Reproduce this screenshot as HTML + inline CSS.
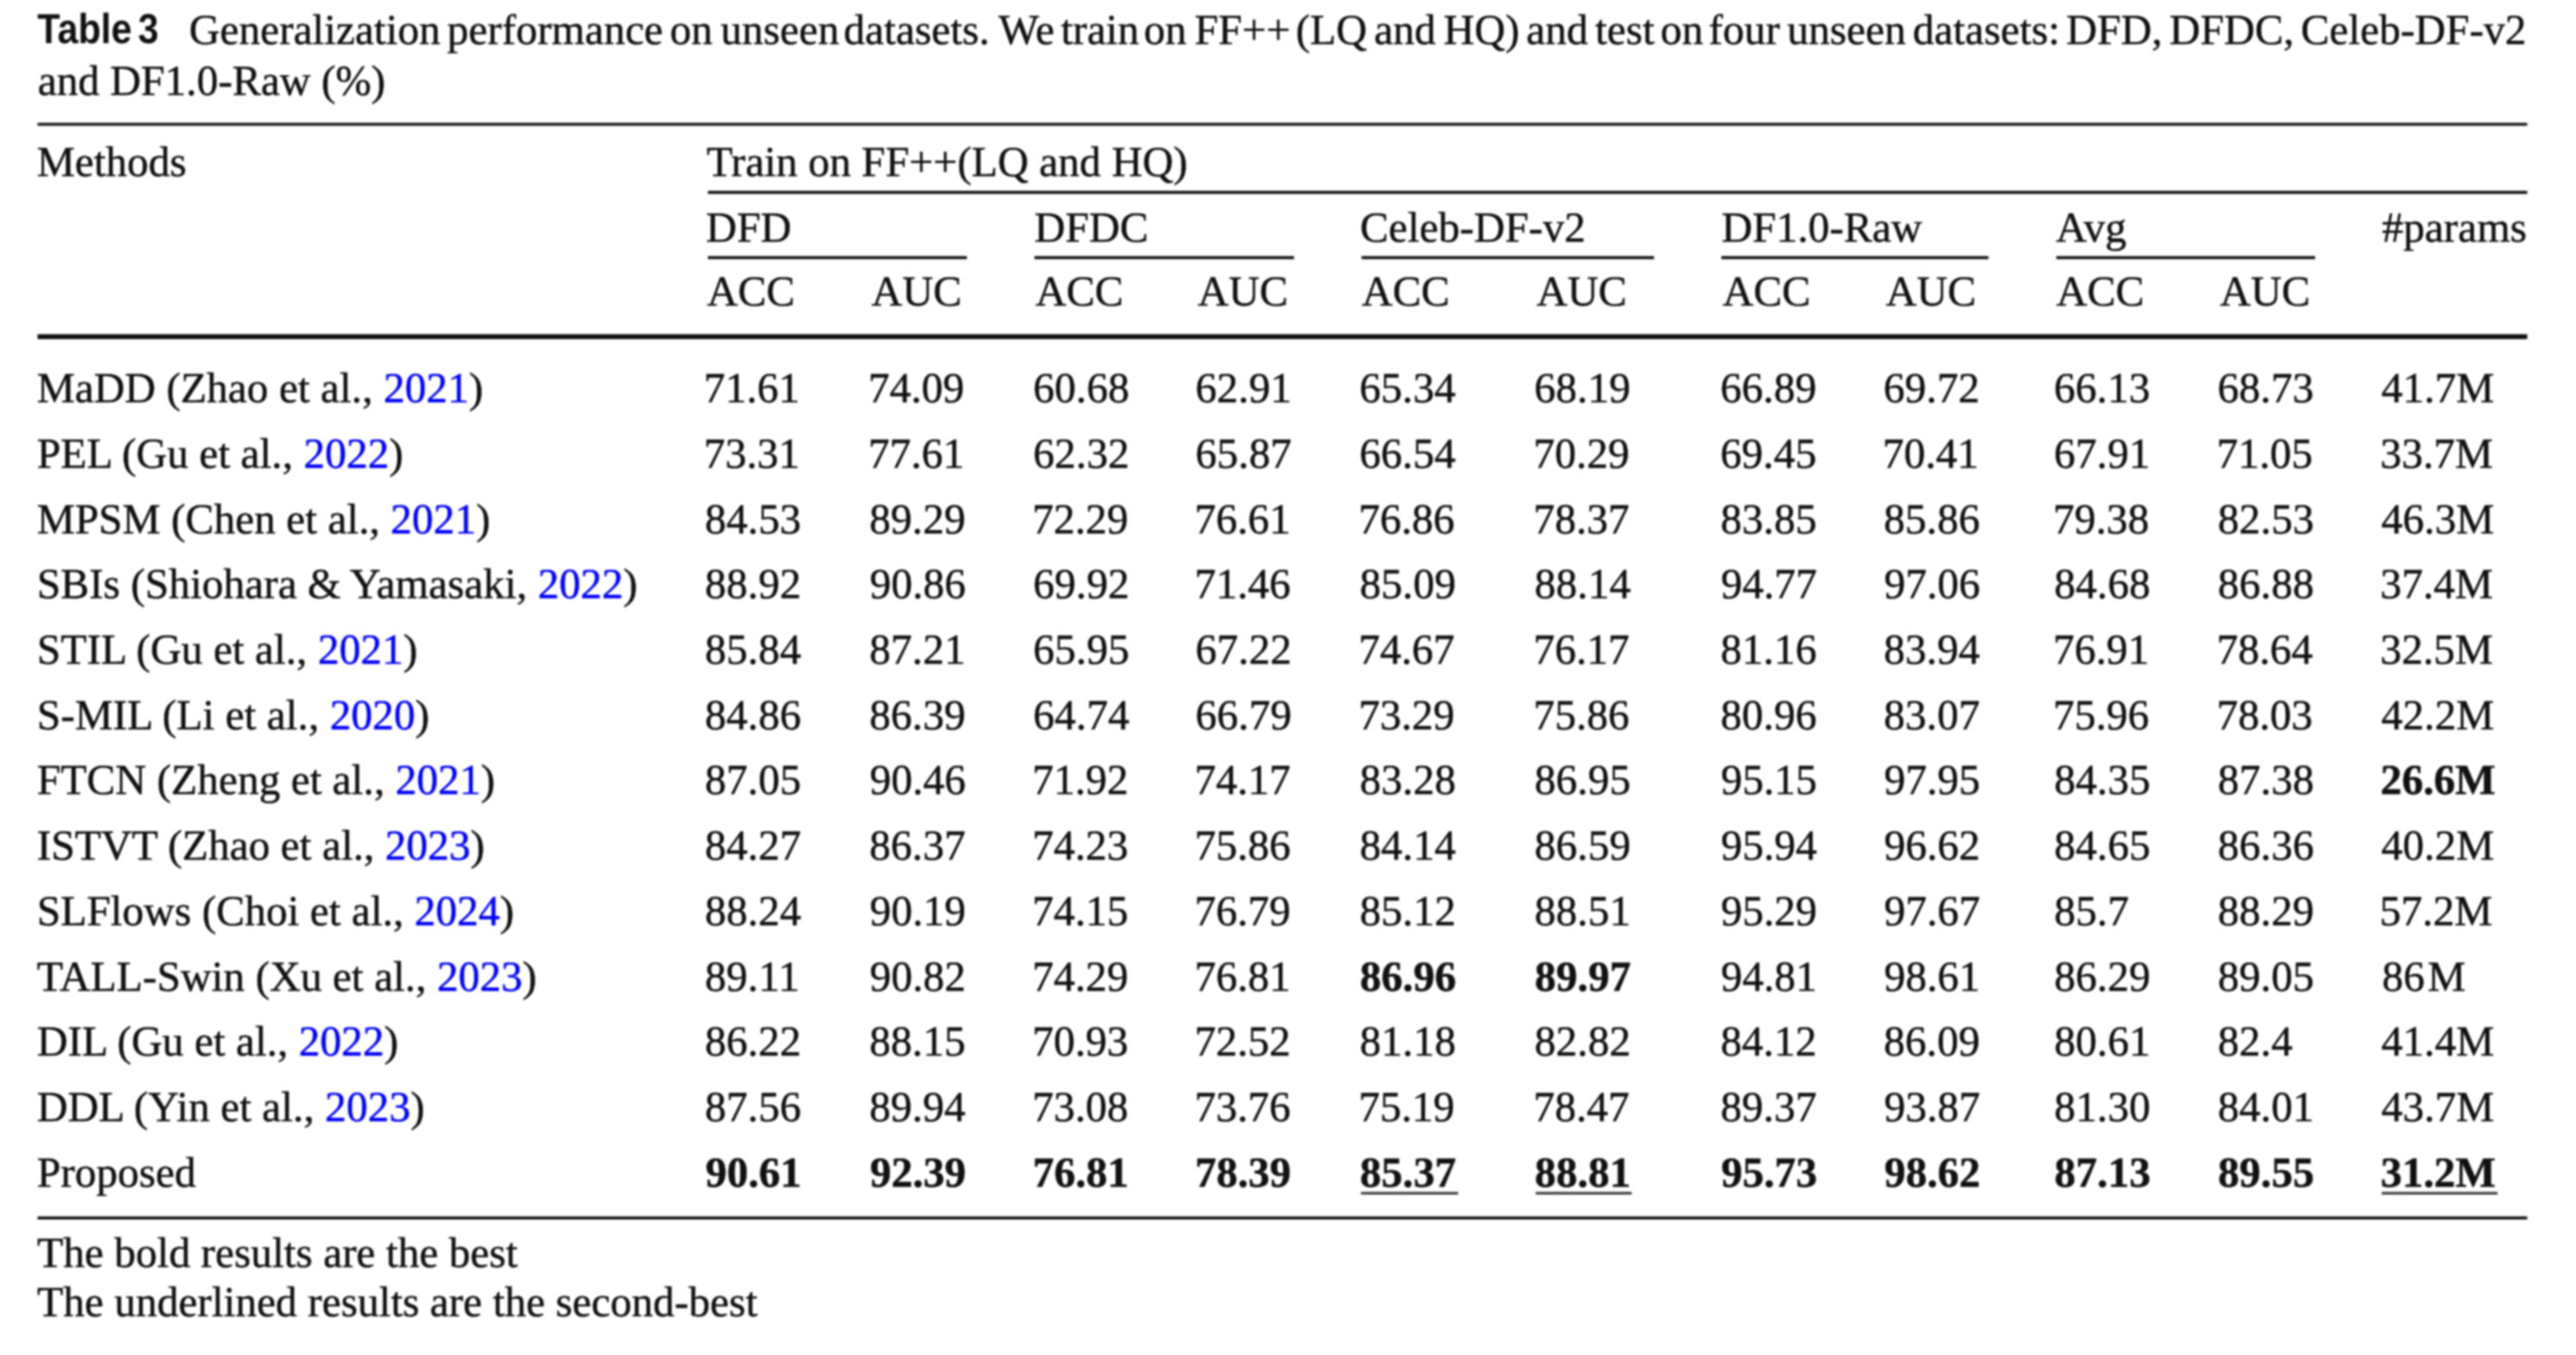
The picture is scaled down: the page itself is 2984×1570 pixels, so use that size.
<!DOCTYPE html>
<html><head><meta charset="utf-8"><title>Table 3</title>
<style>
html,body{margin:0;padding:0;background:#fff;}
body{width:2984px;height:1570px;overflow:hidden;font-family:"Liberation Serif",serif;}
svg{display:block;text-rendering:geometricPrecision;}
#wrap{filter:blur(1.0px);width:2984px;height:1570px;}
svg text{fill:#111;stroke:#111;stroke-width:0.5px;}
svg tspan.b{fill:#00f;stroke:#00f;}
svg text.lbl{stroke-width:0.0px;}
</style></head><body><div id="wrap">
<svg width="2984" height="1570" viewBox="0 0 2984 1570" fill="#111"><text class="lbl" transform="translate(43.21 50.40) scale(0.885 1)" font-family="Liberation Sans" font-weight="bold" font-size="48.80">Table</text>
<text class="lbl" transform="translate(159.81 50.40) scale(0.885 1)" font-family="Liberation Sans" font-weight="bold" font-size="48.80">3</text>
<text x="218.97" y="50.60" font-family="Liberation Serif" font-weight="normal" font-size="49.50">Generalization</text>
<text x="518.00" y="50.60" font-family="Liberation Serif" font-weight="normal" font-size="49.50">performance</text>
<text x="776.11" y="50.60" font-family="Liberation Serif" font-weight="normal" font-size="49.50">on</text>
<text x="834.85" y="50.60" font-family="Liberation Serif" font-weight="normal" font-size="49.50">unseen</text>
<text x="977.21" y="50.60" font-family="Liberation Serif" font-weight="normal" font-size="49.50">datasets.</text>
<text x="1156.65" y="50.60" font-family="Liberation Serif" font-weight="normal" font-size="49.50">We</text>
<text x="1228.92" y="50.60" font-family="Liberation Serif" font-weight="normal" font-size="49.50">train</text>
<text x="1325.11" y="50.60" font-family="Liberation Serif" font-weight="normal" font-size="49.50">on</text>
<text x="1383.77" y="50.60" font-family="Liberation Serif" font-weight="normal" font-size="49.50">FF++</text>
<text x="1501.12" y="50.60" font-family="Liberation Serif" font-weight="normal" font-size="49.50">(LQ</text>
<text x="1591.76" y="50.60" font-family="Liberation Serif" font-weight="normal" font-size="49.50">and</text>
<text x="1672.17" y="50.60" font-family="Liberation Serif" font-weight="normal" font-size="49.50">HQ)</text>
<text x="1767.96" y="50.60" font-family="Liberation Serif" font-weight="normal" font-size="49.50">and</text>
<text x="1847.82" y="50.60" font-family="Liberation Serif" font-weight="normal" font-size="49.50">test</text>
<text x="1923.61" y="50.60" font-family="Liberation Serif" font-weight="normal" font-size="49.50">on</text>
<text x="1979.28" y="50.60" font-family="Liberation Serif" font-weight="normal" font-size="49.50">four</text>
<text x="2070.35" y="50.60" font-family="Liberation Serif" font-weight="normal" font-size="49.50">unseen</text>
<text x="2215.71" y="50.60" font-family="Liberation Serif" font-weight="normal" font-size="49.50">datasets:</text>
<text x="2393.57" y="50.60" font-family="Liberation Serif" font-weight="normal" font-size="49.50">DFD,</text>
<text x="2512.97" y="50.60" font-family="Liberation Serif" font-weight="normal" font-size="49.50">DFDC,</text>
<text x="2665.27" y="50.60" font-family="Liberation Serif" font-weight="normal" font-size="49.50">Celeb-DF-v2</text>
<text x="43.66" y="110.20" font-family="Liberation Serif" font-weight="normal" font-size="49.50">and DF1.0-Raw (%)</text>
<rect x="43.50" y="142.35" width="2884.00" height="3.30" fill="#111"/>
<rect x="820.00" y="221.15" width="2107.50" height="3.50" fill="#111"/>
<rect x="820.00" y="296.75" width="300.00" height="3.50" fill="#111"/>
<rect x="1198.30" y="296.75" width="300.70" height="3.50" fill="#111"/>
<rect x="1577.20" y="296.75" width="338.80" height="3.50" fill="#111"/>
<rect x="1994.00" y="296.75" width="309.40" height="3.50" fill="#111"/>
<rect x="2382.00" y="296.75" width="299.80" height="3.50" fill="#111"/>
<rect x="43.50" y="387.25" width="2884.00" height="5.70" fill="#111"/>
<rect x="43.50" y="1409.45" width="2884.00" height="3.50" fill="#111"/>
<text x="42.80" y="203.90" font-family="Liberation Serif" font-weight="normal" font-size="49.50">Methods</text>
<text x="818.41" y="203.90" font-family="Liberation Serif" font-weight="normal" font-size="49.50">Train on FF++(LQ and HQ)</text>
<text x="817.67" y="279.60" font-family="Liberation Serif" font-weight="normal" font-size="49.50">DFD</text>
<text x="1198.17" y="279.60" font-family="Liberation Serif" font-weight="normal" font-size="49.50">DFDC</text>
<text x="1575.57" y="279.60" font-family="Liberation Serif" font-weight="normal" font-size="49.50">Celeb-DF-v2</text>
<text x="1994.17" y="279.60" font-family="Liberation Serif" font-weight="normal" font-size="49.50">DF1.0-Raw</text>
<text x="2381.62" y="279.60" font-family="Liberation Serif" font-weight="normal" font-size="49.50">Avg</text>
<text x="2759.21" y="279.60" font-family="Liberation Serif" font-weight="normal" font-size="49.50">#params</text>
<text x="818.92" y="353.80" font-family="Liberation Serif" font-weight="normal" font-size="49.50">ACC</text>
<text x="1009.42" y="353.80" font-family="Liberation Serif" font-weight="normal" font-size="49.50">AUC</text>
<text x="1199.42" y="353.80" font-family="Liberation Serif" font-weight="normal" font-size="49.50">ACC</text>
<text x="1387.42" y="353.80" font-family="Liberation Serif" font-weight="normal" font-size="49.50">AUC</text>
<text x="1577.42" y="353.80" font-family="Liberation Serif" font-weight="normal" font-size="49.50">ACC</text>
<text x="1779.92" y="353.80" font-family="Liberation Serif" font-weight="normal" font-size="49.50">AUC</text>
<text x="1995.42" y="353.80" font-family="Liberation Serif" font-weight="normal" font-size="49.50">ACC</text>
<text x="2184.42" y="353.80" font-family="Liberation Serif" font-weight="normal" font-size="49.50">AUC</text>
<text x="2381.92" y="353.80" font-family="Liberation Serif" font-weight="normal" font-size="49.50">ACC</text>
<text x="2571.42" y="353.80" font-family="Liberation Serif" font-weight="normal" font-size="49.50">AUC</text>
<text x="42.80" y="466.20" font-family="Liberation Serif" font-size="49.50">MaDD (Zhao et al., <tspan class="b">2021</tspan>)</text>
<text x="815.24" y="466.20" font-family="Liberation Serif" font-weight="normal" font-size="49.50">71.61</text>
<text x="1005.74" y="466.20" font-family="Liberation Serif" font-weight="normal" font-size="49.50">74.09</text>
<text x="1196.87" y="466.20" font-family="Liberation Serif" font-weight="normal" font-size="49.50">60.68</text>
<text x="1384.87" y="466.20" font-family="Liberation Serif" font-weight="normal" font-size="49.50">62.91</text>
<text x="1574.87" y="466.20" font-family="Liberation Serif" font-weight="normal" font-size="49.50">65.34</text>
<text x="1777.37" y="466.20" font-family="Liberation Serif" font-weight="normal" font-size="49.50">68.19</text>
<text x="1992.87" y="466.20" font-family="Liberation Serif" font-weight="normal" font-size="49.50">66.89</text>
<text x="2181.87" y="466.20" font-family="Liberation Serif" font-weight="normal" font-size="49.50">69.72</text>
<text x="2379.37" y="466.20" font-family="Liberation Serif" font-weight="normal" font-size="49.50">66.13</text>
<text x="2568.87" y="466.20" font-family="Liberation Serif" font-weight="normal" font-size="49.50">68.73</text>
<text x="2758.53" y="466.20" font-family="Liberation Serif" font-weight="normal" font-size="49.50">41.7M</text>
<text x="42.80" y="541.90" font-family="Liberation Serif" font-size="49.50">PEL (Gu et al., <tspan class="b">2022</tspan>)</text>
<text x="815.24" y="541.90" font-family="Liberation Serif" font-weight="normal" font-size="49.50">73.31</text>
<text x="1005.74" y="541.90" font-family="Liberation Serif" font-weight="normal" font-size="49.50">77.61</text>
<text x="1196.87" y="541.90" font-family="Liberation Serif" font-weight="normal" font-size="49.50">62.32</text>
<text x="1384.87" y="541.90" font-family="Liberation Serif" font-weight="normal" font-size="49.50">65.87</text>
<text x="1574.87" y="541.90" font-family="Liberation Serif" font-weight="normal" font-size="49.50">66.54</text>
<text x="1776.24" y="541.90" font-family="Liberation Serif" font-weight="normal" font-size="49.50">70.29</text>
<text x="1992.87" y="541.90" font-family="Liberation Serif" font-weight="normal" font-size="49.50">69.45</text>
<text x="2180.74" y="541.90" font-family="Liberation Serif" font-weight="normal" font-size="49.50">70.41</text>
<text x="2379.37" y="541.90" font-family="Liberation Serif" font-weight="normal" font-size="49.50">67.91</text>
<text x="2567.74" y="541.90" font-family="Liberation Serif" font-weight="normal" font-size="49.50">71.05</text>
<text x="2757.13" y="541.90" font-family="Liberation Serif" font-weight="normal" font-size="49.50">33.7M</text>
<text x="42.80" y="617.60" font-family="Liberation Serif" font-size="49.50">MPSM (Chen et al., <tspan class="b">2021</tspan>)</text>
<text x="816.61" y="617.60" font-family="Liberation Serif" font-weight="normal" font-size="49.50">84.53</text>
<text x="1007.11" y="617.60" font-family="Liberation Serif" font-weight="normal" font-size="49.50">89.29</text>
<text x="1195.74" y="617.60" font-family="Liberation Serif" font-weight="normal" font-size="49.50">72.29</text>
<text x="1383.74" y="617.60" font-family="Liberation Serif" font-weight="normal" font-size="49.50">76.61</text>
<text x="1573.74" y="617.60" font-family="Liberation Serif" font-weight="normal" font-size="49.50">76.86</text>
<text x="1776.24" y="617.60" font-family="Liberation Serif" font-weight="normal" font-size="49.50">78.37</text>
<text x="1993.11" y="617.60" font-family="Liberation Serif" font-weight="normal" font-size="49.50">83.85</text>
<text x="2182.11" y="617.60" font-family="Liberation Serif" font-weight="normal" font-size="49.50">85.86</text>
<text x="2378.24" y="617.60" font-family="Liberation Serif" font-weight="normal" font-size="49.50">79.38</text>
<text x="2569.11" y="617.60" font-family="Liberation Serif" font-weight="normal" font-size="49.50">82.53</text>
<text x="2758.53" y="617.60" font-family="Liberation Serif" font-weight="normal" font-size="49.50">46.3M</text>
<text x="42.80" y="693.30" font-family="Liberation Serif" font-size="49.50">SBIs (Shiohara &amp; Yamasaki, <tspan class="b">2022</tspan>)</text>
<text x="816.61" y="693.30" font-family="Liberation Serif" font-weight="normal" font-size="49.50">88.92</text>
<text x="1007.40" y="693.30" font-family="Liberation Serif" font-weight="normal" font-size="49.50">90.86</text>
<text x="1196.87" y="693.30" font-family="Liberation Serif" font-weight="normal" font-size="49.50">69.92</text>
<text x="1383.74" y="693.30" font-family="Liberation Serif" font-weight="normal" font-size="49.50">71.46</text>
<text x="1575.11" y="693.30" font-family="Liberation Serif" font-weight="normal" font-size="49.50">85.09</text>
<text x="1777.61" y="693.30" font-family="Liberation Serif" font-weight="normal" font-size="49.50">88.14</text>
<text x="1993.40" y="693.30" font-family="Liberation Serif" font-weight="normal" font-size="49.50">94.77</text>
<text x="2182.40" y="693.30" font-family="Liberation Serif" font-weight="normal" font-size="49.50">97.06</text>
<text x="2379.61" y="693.30" font-family="Liberation Serif" font-weight="normal" font-size="49.50">84.68</text>
<text x="2569.11" y="693.30" font-family="Liberation Serif" font-weight="normal" font-size="49.50">86.88</text>
<text x="2757.13" y="693.30" font-family="Liberation Serif" font-weight="normal" font-size="49.50">37.4M</text>
<text x="42.80" y="769.00" font-family="Liberation Serif" font-size="49.50">STIL (Gu et al., <tspan class="b">2021</tspan>)</text>
<text x="816.61" y="769.00" font-family="Liberation Serif" font-weight="normal" font-size="49.50">85.84</text>
<text x="1007.11" y="769.00" font-family="Liberation Serif" font-weight="normal" font-size="49.50">87.21</text>
<text x="1196.87" y="769.00" font-family="Liberation Serif" font-weight="normal" font-size="49.50">65.95</text>
<text x="1384.87" y="769.00" font-family="Liberation Serif" font-weight="normal" font-size="49.50">67.22</text>
<text x="1573.74" y="769.00" font-family="Liberation Serif" font-weight="normal" font-size="49.50">74.67</text>
<text x="1776.24" y="769.00" font-family="Liberation Serif" font-weight="normal" font-size="49.50">76.17</text>
<text x="1993.11" y="769.00" font-family="Liberation Serif" font-weight="normal" font-size="49.50">81.16</text>
<text x="2182.11" y="769.00" font-family="Liberation Serif" font-weight="normal" font-size="49.50">83.94</text>
<text x="2378.24" y="769.00" font-family="Liberation Serif" font-weight="normal" font-size="49.50">76.91</text>
<text x="2567.74" y="769.00" font-family="Liberation Serif" font-weight="normal" font-size="49.50">78.64</text>
<text x="2757.13" y="769.00" font-family="Liberation Serif" font-weight="normal" font-size="49.50">32.5M</text>
<text x="42.80" y="844.70" font-family="Liberation Serif" font-size="49.50">S-MIL (Li et al., <tspan class="b">2020</tspan>)</text>
<text x="816.61" y="844.70" font-family="Liberation Serif" font-weight="normal" font-size="49.50">84.86</text>
<text x="1007.11" y="844.70" font-family="Liberation Serif" font-weight="normal" font-size="49.50">86.39</text>
<text x="1196.87" y="844.70" font-family="Liberation Serif" font-weight="normal" font-size="49.50">64.74</text>
<text x="1384.87" y="844.70" font-family="Liberation Serif" font-weight="normal" font-size="49.50">66.79</text>
<text x="1573.74" y="844.70" font-family="Liberation Serif" font-weight="normal" font-size="49.50">73.29</text>
<text x="1776.24" y="844.70" font-family="Liberation Serif" font-weight="normal" font-size="49.50">75.86</text>
<text x="1993.11" y="844.70" font-family="Liberation Serif" font-weight="normal" font-size="49.50">80.96</text>
<text x="2182.11" y="844.70" font-family="Liberation Serif" font-weight="normal" font-size="49.50">83.07</text>
<text x="2378.24" y="844.70" font-family="Liberation Serif" font-weight="normal" font-size="49.50">75.96</text>
<text x="2567.74" y="844.70" font-family="Liberation Serif" font-weight="normal" font-size="49.50">78.03</text>
<text x="2758.53" y="844.70" font-family="Liberation Serif" font-weight="normal" font-size="49.50">42.2M</text>
<text x="42.80" y="920.40" font-family="Liberation Serif" font-size="49.50">FTCN (Zheng et al., <tspan class="b">2021</tspan>)</text>
<text x="816.61" y="920.40" font-family="Liberation Serif" font-weight="normal" font-size="49.50">87.05</text>
<text x="1007.40" y="920.40" font-family="Liberation Serif" font-weight="normal" font-size="49.50">90.46</text>
<text x="1195.74" y="920.40" font-family="Liberation Serif" font-weight="normal" font-size="49.50">71.92</text>
<text x="1383.74" y="920.40" font-family="Liberation Serif" font-weight="normal" font-size="49.50">74.17</text>
<text x="1575.11" y="920.40" font-family="Liberation Serif" font-weight="normal" font-size="49.50">83.28</text>
<text x="1777.61" y="920.40" font-family="Liberation Serif" font-weight="normal" font-size="49.50">86.95</text>
<text x="1993.40" y="920.40" font-family="Liberation Serif" font-weight="normal" font-size="49.50">95.15</text>
<text x="2182.40" y="920.40" font-family="Liberation Serif" font-weight="normal" font-size="49.50">97.95</text>
<text x="2379.61" y="920.40" font-family="Liberation Serif" font-weight="normal" font-size="49.50">84.35</text>
<text x="2569.11" y="920.40" font-family="Liberation Serif" font-weight="normal" font-size="49.50">87.38</text>
<text x="2757.42" y="920.40" font-family="Liberation Serif" font-weight="bold" font-size="49.50">26.6M</text>
<text x="42.80" y="996.10" font-family="Liberation Serif" font-size="49.50">ISTVT (Zhao et al., <tspan class="b">2023</tspan>)</text>
<text x="816.61" y="996.10" font-family="Liberation Serif" font-weight="normal" font-size="49.50">84.27</text>
<text x="1007.11" y="996.10" font-family="Liberation Serif" font-weight="normal" font-size="49.50">86.37</text>
<text x="1195.74" y="996.10" font-family="Liberation Serif" font-weight="normal" font-size="49.50">74.23</text>
<text x="1383.74" y="996.10" font-family="Liberation Serif" font-weight="normal" font-size="49.50">75.86</text>
<text x="1575.11" y="996.10" font-family="Liberation Serif" font-weight="normal" font-size="49.50">84.14</text>
<text x="1777.61" y="996.10" font-family="Liberation Serif" font-weight="normal" font-size="49.50">86.59</text>
<text x="1993.40" y="996.10" font-family="Liberation Serif" font-weight="normal" font-size="49.50">95.94</text>
<text x="2182.40" y="996.10" font-family="Liberation Serif" font-weight="normal" font-size="49.50">96.62</text>
<text x="2379.61" y="996.10" font-family="Liberation Serif" font-weight="normal" font-size="49.50">84.65</text>
<text x="2569.11" y="996.10" font-family="Liberation Serif" font-weight="normal" font-size="49.50">86.36</text>
<text x="2758.53" y="996.10" font-family="Liberation Serif" font-weight="normal" font-size="49.50">40.2M</text>
<text x="42.80" y="1071.80" font-family="Liberation Serif" font-size="49.50">SLFlows (Choi et al., <tspan class="b">2024</tspan>)</text>
<text x="816.61" y="1071.80" font-family="Liberation Serif" font-weight="normal" font-size="49.50">88.24</text>
<text x="1007.40" y="1071.80" font-family="Liberation Serif" font-weight="normal" font-size="49.50">90.19</text>
<text x="1195.74" y="1071.80" font-family="Liberation Serif" font-weight="normal" font-size="49.50">74.15</text>
<text x="1383.74" y="1071.80" font-family="Liberation Serif" font-weight="normal" font-size="49.50">76.79</text>
<text x="1575.11" y="1071.80" font-family="Liberation Serif" font-weight="normal" font-size="49.50">85.12</text>
<text x="1777.61" y="1071.80" font-family="Liberation Serif" font-weight="normal" font-size="49.50">88.51</text>
<text x="1993.40" y="1071.80" font-family="Liberation Serif" font-weight="normal" font-size="49.50">95.29</text>
<text x="2182.40" y="1071.80" font-family="Liberation Serif" font-weight="normal" font-size="49.50">97.67</text>
<text x="2379.61" y="1071.80" font-family="Liberation Serif" font-weight="normal" font-size="49.50">85.7</text>
<text x="2569.11" y="1071.80" font-family="Liberation Serif" font-weight="normal" font-size="49.50">88.29</text>
<text x="2756.62" y="1071.80" font-family="Liberation Serif" font-weight="normal" font-size="49.50">57.2M</text>
<text x="42.80" y="1147.50" font-family="Liberation Serif" font-size="49.50">TALL-Swin (Xu et al., <tspan class="b">2023</tspan>)</text>
<text x="816.61" y="1147.50" font-family="Liberation Serif" font-weight="normal" font-size="49.50">89.11</text>
<text x="1007.40" y="1147.50" font-family="Liberation Serif" font-weight="normal" font-size="49.50">90.82</text>
<text x="1195.74" y="1147.50" font-family="Liberation Serif" font-weight="normal" font-size="49.50">74.29</text>
<text x="1383.74" y="1147.50" font-family="Liberation Serif" font-weight="normal" font-size="49.50">76.81</text>
<text x="1575.36" y="1147.50" font-family="Liberation Serif" font-weight="bold" font-size="49.50">86.96</text>
<text x="1777.86" y="1147.50" font-family="Liberation Serif" font-weight="bold" font-size="49.50">89.97</text>
<text x="1993.40" y="1147.50" font-family="Liberation Serif" font-weight="normal" font-size="49.50">94.81</text>
<text x="2182.40" y="1147.50" font-family="Liberation Serif" font-weight="normal" font-size="49.50">98.61</text>
<text x="2379.61" y="1147.50" font-family="Liberation Serif" font-weight="normal" font-size="49.50">86.29</text>
<text x="2569.11" y="1147.50" font-family="Liberation Serif" font-weight="normal" font-size="49.50">89.05</text>
<text x="2759.31" y="1147.50" font-family="Liberation Serif" font-weight="normal" font-size="49.50">86</text>
<text x="2812.17" y="1147.50" font-family="Liberation Serif" font-weight="normal" font-size="49.50">M</text>
<text x="42.80" y="1223.20" font-family="Liberation Serif" font-size="49.50">DIL (Gu et al., <tspan class="b">2022</tspan>)</text>
<text x="816.61" y="1223.20" font-family="Liberation Serif" font-weight="normal" font-size="49.50">86.22</text>
<text x="1007.11" y="1223.20" font-family="Liberation Serif" font-weight="normal" font-size="49.50">88.15</text>
<text x="1195.74" y="1223.20" font-family="Liberation Serif" font-weight="normal" font-size="49.50">70.93</text>
<text x="1383.74" y="1223.20" font-family="Liberation Serif" font-weight="normal" font-size="49.50">72.52</text>
<text x="1575.11" y="1223.20" font-family="Liberation Serif" font-weight="normal" font-size="49.50">81.18</text>
<text x="1777.61" y="1223.20" font-family="Liberation Serif" font-weight="normal" font-size="49.50">82.82</text>
<text x="1993.11" y="1223.20" font-family="Liberation Serif" font-weight="normal" font-size="49.50">84.12</text>
<text x="2182.11" y="1223.20" font-family="Liberation Serif" font-weight="normal" font-size="49.50">86.09</text>
<text x="2379.61" y="1223.20" font-family="Liberation Serif" font-weight="normal" font-size="49.50">80.61</text>
<text x="2569.11" y="1223.20" font-family="Liberation Serif" font-weight="normal" font-size="49.50">82.4</text>
<text x="2758.53" y="1223.20" font-family="Liberation Serif" font-weight="normal" font-size="49.50">41.4M</text>
<text x="42.80" y="1298.90" font-family="Liberation Serif" font-size="49.50">DDL (Yin et al., <tspan class="b">2023</tspan>)</text>
<text x="816.61" y="1298.90" font-family="Liberation Serif" font-weight="normal" font-size="49.50">87.56</text>
<text x="1007.11" y="1298.90" font-family="Liberation Serif" font-weight="normal" font-size="49.50">89.94</text>
<text x="1195.74" y="1298.90" font-family="Liberation Serif" font-weight="normal" font-size="49.50">73.08</text>
<text x="1383.74" y="1298.90" font-family="Liberation Serif" font-weight="normal" font-size="49.50">73.76</text>
<text x="1573.74" y="1298.90" font-family="Liberation Serif" font-weight="normal" font-size="49.50">75.19</text>
<text x="1776.24" y="1298.90" font-family="Liberation Serif" font-weight="normal" font-size="49.50">78.47</text>
<text x="1993.11" y="1298.90" font-family="Liberation Serif" font-weight="normal" font-size="49.50">89.37</text>
<text x="2182.40" y="1298.90" font-family="Liberation Serif" font-weight="normal" font-size="49.50">93.87</text>
<text x="2379.61" y="1298.90" font-family="Liberation Serif" font-weight="normal" font-size="49.50">81.30</text>
<text x="2569.11" y="1298.90" font-family="Liberation Serif" font-weight="normal" font-size="49.50">84.01</text>
<text x="2758.53" y="1298.90" font-family="Liberation Serif" font-weight="normal" font-size="49.50">43.7M</text>
<text x="42.80" y="1374.60" font-family="Liberation Serif" font-weight="normal" font-size="49.50">Proposed</text>
<text x="817.15" y="1374.60" font-family="Liberation Serif" font-weight="bold" font-size="49.50">90.61</text>
<text x="1007.65" y="1374.60" font-family="Liberation Serif" font-weight="bold" font-size="49.50">92.39</text>
<text x="1196.17" y="1374.60" font-family="Liberation Serif" font-weight="bold" font-size="49.50">76.81</text>
<text x="1384.17" y="1374.60" font-family="Liberation Serif" font-weight="bold" font-size="49.50">78.39</text>
<text x="1575.36" y="1374.60" font-family="Liberation Serif" font-weight="bold" font-size="49.50">85.37</text>
<rect x="1576.50" y="1380.95" width="112.52" height="3.20" fill="#444"/>
<text x="1777.86" y="1374.60" font-family="Liberation Serif" font-weight="bold" font-size="49.50">88.81</text>
<rect x="1779.00" y="1380.95" width="111.17" height="3.20" fill="#444"/>
<text x="1993.65" y="1374.60" font-family="Liberation Serif" font-weight="bold" font-size="49.50">95.73</text>
<text x="2182.65" y="1374.60" font-family="Liberation Serif" font-weight="bold" font-size="49.50">98.62</text>
<text x="2379.86" y="1374.60" font-family="Liberation Serif" font-weight="bold" font-size="49.50">87.13</text>
<text x="2569.36" y="1374.60" font-family="Liberation Serif" font-weight="bold" font-size="49.50">89.55</text>
<text x="2757.64" y="1374.60" font-family="Liberation Serif" font-weight="bold" font-size="49.50">31.2M</text>
<rect x="2759.00" y="1380.95" width="134.06" height="3.20" fill="#444"/>
<text x="43.10" y="1467.60" font-family="Liberation Serif" font-weight="normal" font-size="49.50">The bold results are the best</text>
<text x="43.10" y="1524.50" font-family="Liberation Serif" font-weight="normal" font-size="49.50">The underlined results are the second-best</text></svg>
</div></body></html>
